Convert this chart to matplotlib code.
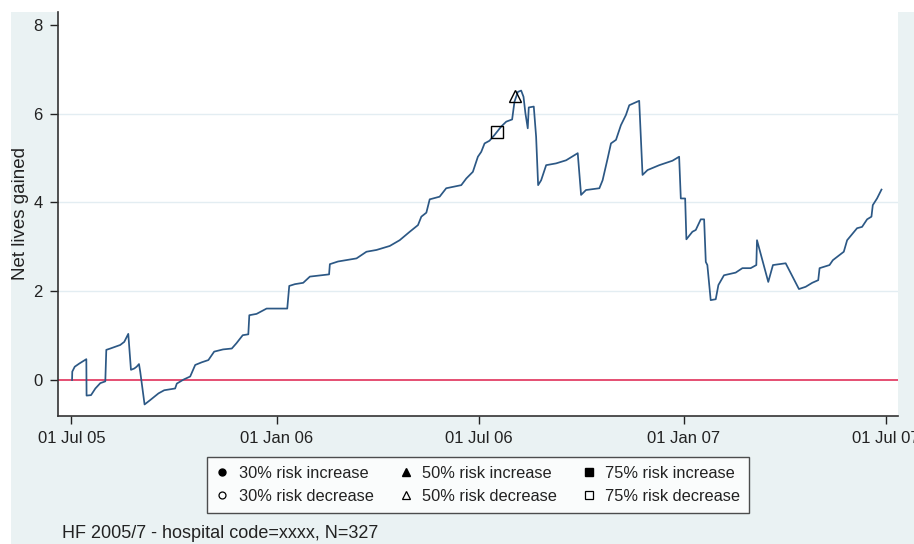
import numpy as np
import matplotlib
matplotlib.use("Agg")
import matplotlib.pyplot as plt
from matplotlib.lines import Line2D
from matplotlib.patches import Rectangle

# ---- data (days since 01 Jul 2005, net lives gained) ----
start_date = np.datetime64("2005-07-01")
days = [0.6, 0.8, 3.0, 7.0, 13.4, 13.6, 17.6, 21.5, 25.9, 30.4, 31.3, 34.9, 43.8, 47.4,
        51.0, 53.4, 56.4, 58.5, 60.6, 61.7, 65.6, 70.7, 78.1, 83.2, 93.0, 94.5, 100.5,
        106.5, 111.0, 116.9, 122.8, 128.0, 136.0, 143.8, 148.0, 153.6, 158.6, 159.5,
        166.0, 175.0, 193.5, 195.3, 200.4, 207.8, 213.8, 231.0, 231.7, 239.0, 255.6,
        264.5, 273.5, 285.4, 294.3, 303.3, 310.7, 313.7, 318.2, 321.2, 330.1, 336.0,
        349.5, 354.0, 359.9, 364.4, 367.4, 370.4, 374.8, 379.3, 385.3, 389.8, 395.1,
        397.2, 400.2, 403.2, 405.3, 407.0, 409.1, 410.0, 414.5, 416.6, 418.4, 421.1,
        425.6, 434.5, 443.5, 453.9, 456.9, 461.3, 473.3, 476.2, 480.7, 483.7, 488.2,
        492.6, 497.1, 500.1, 509.0, 512.0, 516.5, 527.0, 538.8, 544.8, 546.3, 550.2,
        551.3, 556.7, 559.7, 564.2, 567.2, 568.7, 570.1, 573.1, 577.6, 580.0, 585.0,
        595.5, 601.5, 608.9, 614.0, 614.6, 624.7, 628.9, 640.3, 652.2, 658.2, 664.1,
        669.5, 670.7, 679.6, 682.6, 692.4, 695.4, 704.3, 708.8, 713.3, 717.2, 718.4,
        722.2, 726.2]
net_lives = [0.00, 0.19, 0.30, 0.37, 0.47, -0.35, -0.34, -0.19, -0.07, -0.03, 0.68, 0.71,
             0.79, 0.86, 1.04, 0.23, 0.26, 0.30, 0.36, 0.19, -0.55, -0.45, -0.30, -0.23,
             -0.19, -0.08, 0.01, 0.08, 0.34, 0.40, 0.45, 0.64, 0.69, 0.71, 0.83, 1.01,
             1.03, 1.46, 1.49, 1.61, 1.61, 2.12, 2.16, 2.19, 2.33, 2.38, 2.61, 2.67, 2.74,
             2.89, 2.93, 3.02, 3.15, 3.34, 3.49, 3.68, 3.77, 4.07, 4.13, 4.32, 4.39, 4.54,
             4.69, 5.03, 5.14, 5.33, 5.39, 5.52, 5.71, 5.82, 5.87, 6.27, 6.49, 6.52, 6.38,
             6.01, 5.67, 6.14, 6.16, 5.48, 4.39, 4.50, 4.84, 4.88, 4.95, 5.11, 4.17, 4.28,
             4.32, 4.50, 4.99, 5.33, 5.41, 5.74, 5.97, 6.19, 6.29, 4.62, 4.73, 4.84, 4.94,
             5.03, 4.09, 4.09, 3.17, 3.34, 3.38, 3.62, 3.62, 2.66, 2.59, 1.80, 1.82, 2.14,
             2.36, 2.42, 2.52, 2.52, 2.59, 3.15, 2.21, 2.59, 2.63, 2.05, 2.10, 2.19, 2.25,
             2.52, 2.59, 2.70, 2.89, 3.15, 3.42, 3.45, 3.62, 3.68, 3.94, 4.09, 4.29]

# signal markers
dec50_days = [397.8]
dec50_vals = [6.40]
dec75_days = [381.4]
dec75_vals = [5.58]

xtick_dates = ["2005-07-01", "2006-01-01", "2006-07-01", "2007-01-01", "2007-07-01"]
xtick_labels = ["01 Jul 05", "01 Jan 06", "01 Jul 06", "01 Jan 07", "01 Jul 07"]
ytick_vals = [0, 2, 4, 6, 8]
legend_labels = ["30% risk increase", "30% risk decrease",
                 "50% risk increase", "50% risk decrease",
                 "75% risk increase", "75% risk decrease"]
footnote = "HF 2005/7 - hospital code=xxxx, N=327"
ylabel = "Net lives gained"


def to_dates(d):
    return (start_date + np.round(np.asarray(d) * 24 * 60).astype("timedelta64[m]")).astype("datetime64[m]").astype(object)


plt.rcParams["font.family"] = ["Liberation Sans", "DejaVu Sans"]

W, H = 914, 544
fig = plt.figure(figsize=(W / 100, H / 100), dpi=100)
fig.patch.set_facecolor("white")
bg = "#EAF2F3"
fig.add_artist(Rectangle((11 / W, 0), 1 - 11 / W, 1 - 12 / H, transform=fig.transFigure,
                         facecolor=bg, edgecolor="none", zorder=-10))

ax = fig.add_axes([58 / W, 1 - 416 / H, (898 - 58) / W, (416 - 12) / H])
ax.set_facecolor("white")

line_col = "#2C5885"
x = to_dates(days)
ax.plot(x, net_lives, color=line_col, lw=1.25, zorder=3)
ax.axhline(0, color="#E0305A", lw=1.2, zorder=2)
for g in [2, 4, 6]:
    ax.axhline(g, color="#E3EDF2", lw=1.0, zorder=1)

ax.plot(to_dates(dec50_days), dec50_vals, linestyle="none", marker="^", ms=8,
        mfc="none", mec="black", mew=1.0, zorder=4)
ax.plot(to_dates(dec75_days), dec75_vals, linestyle="none", marker="s", ms=8,
        mfc="none", mec="black", mew=1.0, zorder=4)

x0 = start_date - np.timedelta64(12, "D")
x1 = np.datetime64("2007-07-01") + np.timedelta64(11, "D")
ax.set_xlim(x0.astype(object), x1.astype(object))
ax.set_ylim(-0.81, 8.29)

ax.set_xticks([np.datetime64(d).astype(object) for d in xtick_dates])
ax.set_xticklabels(xtick_labels)
ax.set_yticks(ytick_vals)
ax.set_yticklabels([str(v) for v in ytick_vals])
ax.tick_params(axis="both", labelsize=12, colors="#222222", length=6, width=1.0, pad=5)
ax.tick_params(axis="x", pad=5)

for s in ["top", "right"]:
    ax.spines[s].set_visible(False)
for s in ["left", "bottom"]:
    ax.spines[s].set_color("#333333")
    ax.spines[s].set_linewidth(1.2)

ax.set_ylabel(ylabel, fontsize=13.5, color="#222222")
ax.yaxis.set_label_coords(-29 / 840, 0.5)

handles = [
    Line2D([], [], ls="none", marker="o", ms=5, mfc="black", mec="black"),
    Line2D([], [], ls="none", marker="o", ms=5, mfc="none", mec="black", mew=0.9),
    Line2D([], [], ls="none", marker="^", ms=6, mfc="black", mec="black"),
    Line2D([], [], ls="none", marker="^", ms=6, mfc="none", mec="black", mew=0.9),
    Line2D([], [], ls="none", marker="s", ms=6, mfc="black", mec="black"),
    Line2D([], [], ls="none", marker="s", ms=6, mfc="none", mec="black", mew=0.9),
]
leg = fig.legend(handles, legend_labels, ncol=3, loc="center",
                 bbox_to_anchor=(478 / W, 1 - 485 / H), fontsize=11.8,
                 frameon=True, fancybox=False, edgecolor="#222222",
                 handlelength=0.8, handletextpad=0.6, columnspacing=1.55,
                 labelspacing=0.5, borderpad=0.55)
leg.get_frame().set_linewidth(1.0)
for t in leg.get_texts():
    t.set_color("#222222")

fig.text(62 / W, 1 - 533 / H, footnote, fontsize=13, color="#222222", va="center", ha="left")

fig.savefig("out.png", dpi=100)
